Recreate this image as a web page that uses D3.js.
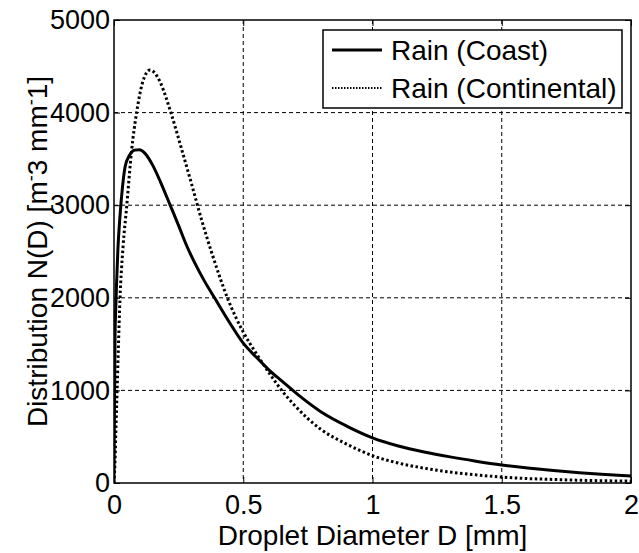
<!DOCTYPE html>
<html>
<head>
<meta charset="utf-8">
<script src="https://cdn.jsdelivr.net/npm/d3@7"></script>
<style>
  body { margin: 0; background: #fff; }
  svg { display: block; }
  text { font-family: "Liberation Sans", Arial, sans-serif; fill: #000; }
</style>
</head>
<body>
<script>
// values
var xTicks = [0, 0.5, 1, 1.5, 2];
var yTicks = [0, 1000, 2000, 3000, 4000, 5000];

var coastD = [0, 0.002, 0.004, 0.007, 0.010, 0.015, 0.023, 0.033, 0.043, 0.06, 0.08, 0.098, 0.12, 0.15, 0.18, 0.217, 0.25, 0.28, 0.31, 0.35, 0.39, 0.45, 0.5, 0.55, 0.6, 0.65, 0.72, 0.8, 0.9, 1.0, 1.1, 1.2, 1.3, 1.4, 1.5, 1.6, 1.7, 1.8, 1.9, 2.0];
var coastN = [0, 900, 1580, 1900, 2160, 2520, 2876, 3200, 3416, 3540, 3595, 3600, 3560, 3430, 3250, 3002, 2780, 2570, 2390, 2180, 1995, 1720, 1510, 1360, 1220, 1100, 935, 770, 615, 488, 400, 335, 282, 236, 195, 162, 134, 111, 92, 76];

var contD = [0, 0.004, 0.008, 0.012, 0.017, 0.023, 0.035, 0.049, 0.068, 0.088, 0.11, 0.139, 0.16, 0.18, 0.22, 0.26, 0.3, 0.34, 0.38, 0.44, 0.5, 0.55, 0.6, 0.65, 0.7, 0.75, 0.8, 0.9, 1.0, 1.1, 1.2, 1.3, 1.4, 1.5, 1.6, 1.7, 1.8, 1.9, 2.0];
var contN = [0, 250, 650, 1000, 1472, 1976, 2550, 2984, 3590, 4010, 4320, 4460, 4420, 4320, 4000, 3620, 3230, 2830, 2470, 1990, 1630, 1400, 1190, 995, 835, 695, 580, 420, 295, 215, 160, 118, 88, 64, 48, 38, 30, 24, 20];

var seriesNames = ["Rain (Coast)", "Rain (Continental)"];

var width = 639, height = 553;
var margin = {left: 114, right: 8, top: 20, bottom: 70};
var w = width - margin.left - margin.right;
var h = height - margin.top - margin.bottom;
var fs = 27;     // tick labels
var fsLab = 28;  // axis labels and legend

var svg = d3.select("body").append("svg")
    .attr("width", width)
    .attr("height", height);

var g = svg.append("g")
    .attr("transform", "translate(" + margin.left + "," + margin.top + ")");

var x = d3.scaleLinear().domain([0, 2]).range([0, w]);
var y = d3.scaleLinear().domain([0, 5000]).range([h, 0]);

// dashed grid
g.selectAll(".gx")
    .data(xTicks.slice(1, -1))
    .enter().append("line")
    .attr("x1", x).attr("x2", x)
    .attr("y1", 0).attr("y2", h)
    .attr("stroke", "#000").attr("stroke-width", 1)
    .attr("stroke-dasharray", "4,3");

g.selectAll(".gy")
    .data(yTicks.slice(1, -1))
    .enter().append("line")
    .attr("x1", 0).attr("x2", w)
    .attr("y1", y).attr("y2", y)
    .attr("stroke", "#000").attr("stroke-width", 1)
    .attr("stroke-dasharray", "4,3");

// curves
g.append("clipPath").attr("id", "clip")
  .append("rect").attr("width", w).attr("height", h + 2).attr("y", -1);

var line = d3.line()
    .x(function(d) { return x(d[0]); })
    .y(function(d) { return y(d[1]); })
    .curve(d3.curveMonotoneX);

var coast = coastD.map(function(d, i) { return [d, coastN[i]]; });
var cont = contD.map(function(d, i) { return [d, contN[i]]; });

g.append("path")
    .datum(cont)
    .attr("clip-path", "url(#clip)")
    .attr("d", line)
    .attr("fill", "none")
    .attr("stroke", "#000")
    .attr("stroke-width", 3)
    .attr("stroke-dasharray", "2.5,2.5");

g.append("path")
    .datum(coast)
    .attr("clip-path", "url(#clip)")
    .attr("d", line)
    .attr("fill", "none")
    .attr("stroke", "#000")
    .attr("stroke-width", 3);

// axes, matlab style: ticks inward, on all four sides
function styleAxis(sel) {
    sel.select(".domain").remove();
    sel.selectAll("line").attr("stroke", "#000");
    sel.selectAll("text")
        .attr("font-size", fs)
        .attr("font-family", "Liberation Sans, Arial, sans-serif");
}

g.append("g")
    .attr("transform", "translate(0," + h + ")")
    .call(d3.axisBottom(x).tickValues(xTicks).tickFormat(d3.format("~g"))
        .tickSizeInner(-6).tickSizeOuter(0).tickPadding(12))
    .call(styleAxis);

g.append("g")
    .call(d3.axisLeft(y).tickValues(yTicks).tickFormat(d3.format("d"))
        .tickSizeInner(-6).tickSizeOuter(0).tickPadding(4))
    .call(styleAxis);

g.append("g")
    .call(d3.axisTop(x).tickValues(xTicks).tickFormat("")
        .tickSizeInner(-6).tickSizeOuter(0))
    .call(styleAxis);

g.append("g")
    .attr("transform", "translate(" + w + ",0)")
    .call(d3.axisRight(y).tickValues(yTicks).tickFormat("")
        .tickSizeInner(-6).tickSizeOuter(0))
    .call(styleAxis);

g.append("rect")
    .attr("width", w).attr("height", h)
    .attr("fill", "none")
    .attr("stroke", "#000")
    .attr("stroke-width", 1.5);

// axis labels
svg.append("text")
    .attr("x", margin.left + w / 2)
    .attr("y", 545)
    .attr("text-anchor", "middle")
    .attr("font-size", fsLab)
    .text("Droplet Diameter D [mm]");

var yl = svg.append("text")
    .attr("transform", "translate(47," + (margin.top + h / 2) + ") rotate(-90)")
    .attr("text-anchor", "middle")
    .attr("font-size", fsLab);
yl.append("tspan").text("Distribution N(D) [m");
yl.append("tspan").attr("dy", -10).attr("font-size", 18).text("-");
yl.append("tspan").attr("dy", 10).text("3 mm");
yl.append("tspan").attr("dy", -10).attr("font-size", 18).text("-");
yl.append("tspan").attr("dy", 10).text("1]");

// legend
var lg = svg.append("g").attr("transform", "translate(323,30)");
lg.append("rect")
    .attr("width", 299).attr("height", 78)
    .attr("fill", "#fff")
    .attr("stroke", "#000").attr("stroke-width", 1.5);

var legendRows = [
    {name: seriesNames[0], dash: null, sw: 3},
    {name: seriesNames[1], dash: "1.5,1.5", sw: 2}
];
lg.selectAll(".row")
    .data(legendRows)
    .enter().append("g")
    .attr("transform", function(d, i) { return "translate(0," + (20 + i * 38) + ")"; })
    .each(function(d) {
        var r = d3.select(this);
        r.append("line")
            .attr("x1", 9).attr("x2", 59)
            .attr("stroke", "#000")
            .attr("stroke-width", d.sw)
            .attr("stroke-dasharray", d.dash);
        r.append("text")
            .attr("x", 68)
            .attr("dy", "0.35em")
            .attr("font-size", fsLab)
            .text(d.name);
    });
</script>
</body>
</html>
